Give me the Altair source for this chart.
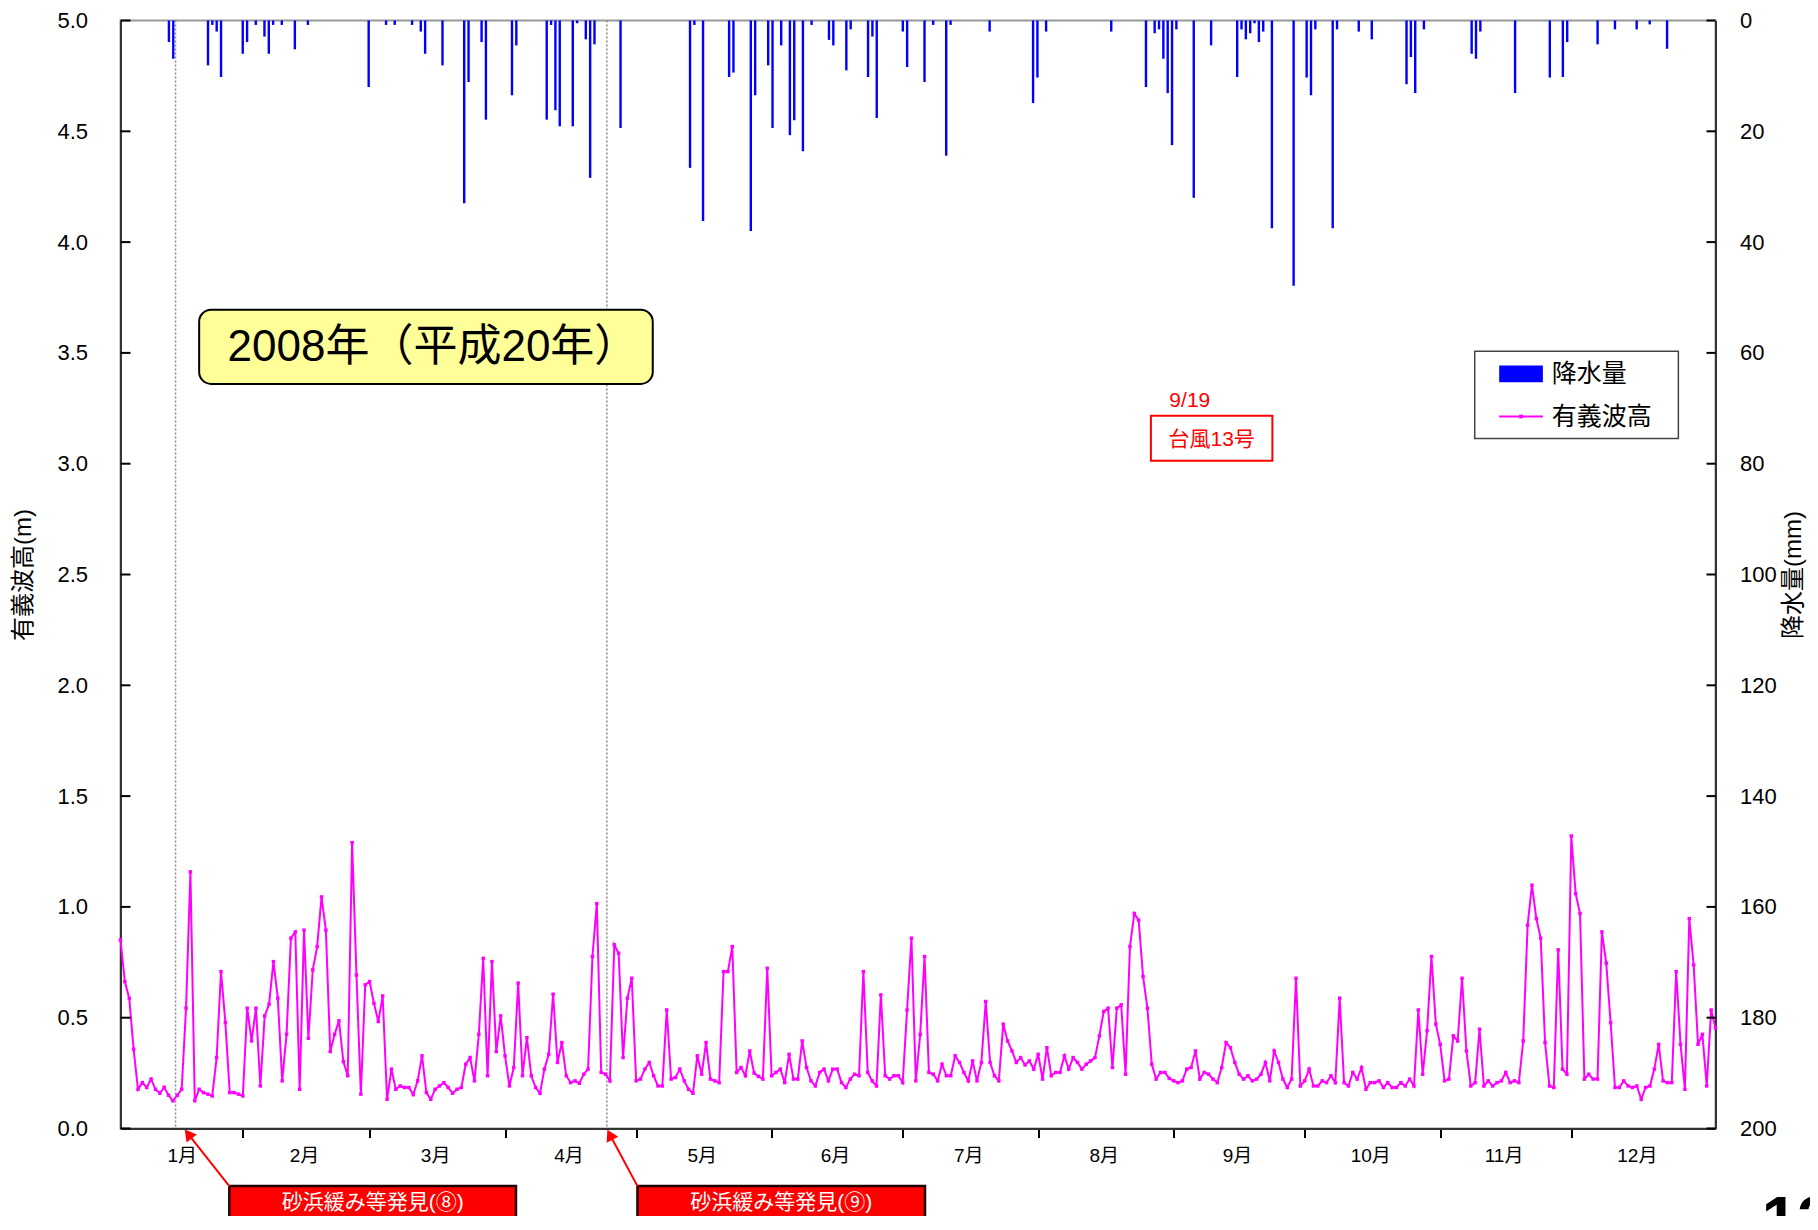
import altair as alt
import pandas as pd

FONT = "Liberation Sans, Noto Sans CJK JP"
W, H = 1595, 1108
DAY0, DAY1 = 4, 369

# 有義波高 (m), daily from day-of-year 4
wave_height = [
    0.851, 0.663, 0.588, 0.358, 0.177, 0.207, 0.185, 0.223, 0.177, 0.159,
    0.186, 0.150, 0.125, 0.150, 0.177, 0.543, 1.158, 0.125, 0.177, 0.162,
    0.155, 0.147, 0.320, 0.708, 0.478, 0.162, 0.162, 0.155, 0.147, 0.543,
    0.395, 0.543, 0.192, 0.508, 0.561, 0.753, 0.588, 0.215, 0.425, 0.859,
    0.887, 0.177, 0.895, 0.407, 0.716, 0.821, 1.045, 0.895, 0.347, 0.425,
    0.486, 0.302, 0.238, 1.290, 0.693, 0.155, 0.648, 0.663, 0.565, 0.483,
    0.598, 0.132, 0.268, 0.177, 0.192, 0.185, 0.185, 0.153, 0.215, 0.328,
    0.162, 0.132, 0.177, 0.192, 0.207, 0.185, 0.159, 0.177, 0.185, 0.290,
    0.320, 0.215, 0.425, 0.768, 0.238, 0.753, 0.347, 0.508, 0.328, 0.192,
    0.275, 0.656, 0.238, 0.410, 0.238, 0.185, 0.159, 0.268, 0.335, 0.606,
    0.298, 0.388, 0.238, 0.207, 0.215, 0.204, 0.245, 0.268, 0.776, 1.015,
    0.253, 0.245, 0.215, 0.829, 0.791, 0.320, 0.588, 0.678, 0.215, 0.223,
    0.268, 0.298, 0.238, 0.192, 0.192, 0.535, 0.223, 0.230, 0.268, 0.215,
    0.177, 0.159, 0.328, 0.245, 0.388, 0.223, 0.215, 0.207, 0.708, 0.708,
    0.821, 0.253, 0.275, 0.238, 0.350, 0.250, 0.235, 0.223, 0.723, 0.238,
    0.253, 0.268, 0.207, 0.335, 0.223, 0.223, 0.395, 0.275, 0.215, 0.192,
    0.253, 0.268, 0.215, 0.268, 0.268, 0.207, 0.185, 0.223, 0.245, 0.238,
    0.708, 0.253, 0.215, 0.192, 0.603, 0.238, 0.223, 0.238, 0.238, 0.207,
    0.535, 0.859, 0.215, 0.425, 0.776, 0.253, 0.245, 0.215, 0.290, 0.238,
    0.238, 0.328, 0.298, 0.253, 0.215, 0.305, 0.215, 0.298, 0.573, 0.298,
    0.238, 0.215, 0.471, 0.395, 0.350, 0.298, 0.320, 0.287, 0.305, 0.268,
    0.335, 0.223, 0.365, 0.238, 0.253, 0.253, 0.328, 0.268, 0.320, 0.298,
    0.268, 0.290, 0.305, 0.320, 0.418, 0.528, 0.543, 0.275, 0.543, 0.558,
    0.245, 0.821, 0.970, 0.940, 0.686, 0.543, 0.290, 0.223, 0.253, 0.253,
    0.226, 0.215, 0.207, 0.215, 0.268, 0.275, 0.350, 0.223, 0.253, 0.245,
    0.223, 0.207, 0.275, 0.388, 0.365, 0.298, 0.245, 0.223, 0.238, 0.215,
    0.223, 0.245, 0.298, 0.215, 0.350, 0.298, 0.223, 0.185, 0.223, 0.678,
    0.192, 0.215, 0.268, 0.192, 0.192, 0.215, 0.207, 0.238, 0.207, 0.588,
    0.207, 0.192, 0.253, 0.223, 0.275, 0.177, 0.207, 0.207, 0.215, 0.185,
    0.207, 0.185, 0.185, 0.207, 0.192, 0.223, 0.192, 0.535, 0.245, 0.441,
    0.776, 0.471, 0.380, 0.215, 0.223, 0.418, 0.395, 0.678, 0.350, 0.192,
    0.207, 0.448, 0.192, 0.215, 0.192, 0.207, 0.215, 0.253, 0.207, 0.215,
    0.207, 0.395, 0.917, 1.098, 0.947, 0.859, 0.388, 0.192, 0.185, 0.806,
    0.268, 0.245, 1.320, 1.060, 0.970, 0.223, 0.245, 0.223, 0.223, 0.887,
    0.746, 0.478, 0.185, 0.185, 0.215, 0.192, 0.185, 0.192, 0.132, 0.185,
    0.192, 0.268, 0.380, 0.215, 0.207, 0.207, 0.708, 0.380, 0.177, 0.947,
    0.738, 0.380, 0.425, 0.192, 0.535, 0.453,
]

# 降水量 (mm)
rain_day = [14, 15, 23, 24, 25, 26, 31, 32, 34, 36, 37, 38, 40, 43, 46,
            60, 64, 66, 70, 72, 73, 77, 82, 83, 86, 87, 93, 94,
            101, 102, 103, 104, 107, 108, 110, 111, 112, 118,
            134, 135, 137, 143, 144, 148, 149, 152, 153, 155, 157, 158, 160, 162,
            166, 167, 170, 171, 175, 176, 177, 183, 184, 188, 190, 193, 194,
            203, 213, 214, 216, 231, 239, 241, 242, 243, 244, 245, 246, 250, 254,
            260, 261, 262, 263, 264, 265, 266, 268, 273, 276, 277, 278,
            282, 283, 288, 291, 299, 300, 301, 303, 314, 315, 316,
            324, 332, 335, 336, 343, 347, 352, 355, 359]
rain_mm = [3.9, 6.9, 8.1, 0.8, 2.0, 10.2, 6.0, 3.9, 0.8, 2.9, 6.0, 0.8, 0.8, 5.2, 0.8,
           12.0, 0.8, 0.8, 0.8, 2.0, 6.0, 8.1, 33.0, 11.1, 3.9, 17.9, 13.5, 4.5,
           17.9, 0.8, 16.2, 19.1, 19.1, 0.5, 3.4, 28.4, 4.3, 19.4,
           26.6, 0.8, 36.2, 10.2, 9.4, 38.0, 13.5, 8.1, 19.4, 4.5, 20.7, 18.0, 23.6, 0.8,
           3.5, 4.5, 9.0, 1.6, 10.2, 2.9, 17.6, 2.0, 8.4, 11.1, 0.8, 24.4, 0.8,
           2.0, 14.9, 10.3, 2.0, 2.0, 12.0, 2.3, 1.6, 6.9, 13.1, 22.5, 1.6, 32.0, 4.5,
           10.2, 1.6, 3.4, 2.3, 0.5, 3.9, 2.0, 37.5, 47.9, 10.3, 13.5, 1.6,
           37.5, 1.6, 2.0, 3.4, 11.5, 6.6, 13.1, 1.6, 6.0, 6.9, 2.0,
           13.1, 10.3, 10.2, 3.9, 4.3, 1.6, 1.6, 0.7, 5.1]

month_start = [32, 61, 92, 122, 153, 183, 214, 245, 275, 306, 336]
month_mid = [18, 46, 76, 106.5, 137, 167.5, 198, 229, 259.5, 290, 320.5, 351]
month_names = ["1月", "2月", "3月", "4月", "5月", "6月", "7月", "8月", "9月", "10月", "11月", "12月"]
left_ticks = [0.0, 0.5, 1.0, 1.5, 2.0, 2.5, 3.0, 3.5, 4.0, 4.5, 5.0]
right_ticks = [0, 20, 40, 60, 80, 100, 120, 140, 160, 180, 200]

event_day = [16.6, 115.3]

title_text = ["2008年（平成20年）"]
title_box = {"x0": [22.0], "x1": [125.8], "y0": [3.695], "y1": [3.360], "tx": [75.5], "ty": [3.52]}

typhoon_date = ["9/19"]
typhoon_name = ["台風13号"]
typhoon_pos = {"dx": [248.7], "dy": [3.282], "x0": [239.8], "x1": [267.6], "y0": [3.216], "y1": [3.013],
               "nx": [253.7], "ny": [3.106]}

legend_labels = ["降水量", "有義波高"]
legend_pos = {"x0": [313.9], "x1": [360.5], "y0": [3.508], "y1": [3.114],
              "sx0": [319.5], "sx1": [329.5], "sy0": [3.443], "sy1": [3.368],
              "tx": [331.5, 331.5], "ty": [3.406, 3.212], "ly": [3.213], "lx": [324.5]}

note_text = ["砂浜緩み等発見(⑧)", "砂浜緩み等発見(⑨)"]
note_box = {"x0": [28.9, 122.3], "x1": [94.5, 188.1], "y0": [-0.26, -0.26], "y1": [-0.55, -0.55],
            "tx": [61.7, 155.2], "ty": [-0.334, -0.334]}
arrow_from = {"x": [28.9, 122.3], "y": [-0.26, -0.26]}
arrow_head = {"x": [19.5, 116.0], "y": [-0.025, -0.028]}

page_no = ["13"]
page_pos = {"x": [379.6], "y": [-0.514]}

assert len(rain_day) == len(rain_mm)

xs = alt.Scale(domain=[DAY0, DAY1], nice=False, zero=False)
ys = alt.Scale(domain=[0, 5], nice=False, zero=False)
rs = alt.Scale(domain=[0, 200], reverse=True, nice=False)

wave_df = pd.DataFrame({"day": list(range(DAY0, DAY0 + len(wave_height))), "h": wave_height})
rain_df = pd.DataFrame({"day": rain_day, "mm": rain_mm})


def X(f):
    return alt.X(f, type="quantitative", scale=xs, axis=None)


def Y(f):
    return alt.Y(f, type="quantitative", scale=ys, axis=None)


label_expr = "(indexof([" + ",".join(str(v) for v in month_mid) + "], datum.value) + 1) + '月'"

# precipitation bars (right axis)
bars = alt.Chart(rain_df).mark_bar(color="#0000FF", size=2.4).encode(
    x=X("day"),
    y=alt.Y("mm:Q", scale=rs, axis=alt.Axis(
        orient="right", values=right_ticks, ticks=False, tickSize=0, labelPadding=24,
        labelFontSize=22, labelFont=FONT, labelColor="#000000",
        domain=True, domainColor="#333333", domainWidth=2, grid=False,
        title="降水量(mm)", titleFont=FONT, titleFontSize=24, titleFontWeight="normal",
        titleColor="#000000", titleAngle=270, titleX=78, titleY=H / 2,
        titleAlign="center", titleBaseline="middle")),
    y2=alt.datum(0),
)

events = alt.Chart(pd.DataFrame({"d": event_day})).mark_rule(
    color="#888888", strokeWidth=1.5, strokeDash=[2, 2]).encode(
    x=X("d"), y=alt.value(0), y2=alt.value(H))

line = alt.Chart(wave_df).mark_line(color="#FF00FF", strokeWidth=2).encode(
    x=alt.X("day:Q", scale=xs, axis=alt.Axis(
        orient="bottom", values=month_start, labels=False, ticks=True, tickSize=9, tickWidth=2,
        tickColor="#000000", domain=True, domainColor="#333333", domainWidth=2, grid=False, title=None)),
    y=alt.Y("h:Q", scale=ys, axis=alt.Axis(
        orient="left", values=left_ticks, format=".1f", ticks=False, tickSize=0, labelPadding=33,
        labelFontSize=22, labelFont=FONT, labelColor="#000000",
        domain=True, domainColor="#333333", domainWidth=2, grid=False,
        title="有義波高(m)", titleFont=FONT, titleFontSize=24, titleFontWeight="normal",
        titleColor="#000000", titleAngle=270, titleX=-97, titleY=H / 2,
        titleAlign="center", titleBaseline="middle")),
)

pts = alt.Chart(wave_df).mark_square(size=12, color="#FF00FF", opacity=1).encode(
    x=alt.X("day:Q", scale=xs, axis=alt.Axis(
        orient="bottom", values=month_mid, labelExpr=label_expr, ticks=False, tickSize=0,
        domain=False, grid=False, labelPadding=18, labelFontSize=19, labelFont=FONT,
        labelColor="#000000", labelFlush=False, labelOverlap=False, title=None)),
    y=Y("h"),
)

tick_df = pd.DataFrame({"v": left_ticks})
lticks = alt.Chart(tick_df).mark_rule(color="#000000", strokeWidth=2).encode(
    y=Y("v"), x=alt.value(0), x2=alt.value(10))
rticks = alt.Chart(tick_df).mark_rule(color="#000000", strokeWidth=2).encode(
    y=Y("v"), x=alt.value(W - 9), x2=alt.value(W))

# title box
tb_df = pd.DataFrame(dict(title_box, t=title_text))
tbox = alt.Chart(tb_df).mark_rect(fill="#FFFF99", stroke="#000000", strokeWidth=2, cornerRadius=12).encode(
    x=X("x0"), x2="x1:Q", y=Y("y0"), y2="y1:Q")
ttext = alt.Chart(tb_df).mark_text(font=FONT, fontSize=44, color="#000000", align="center",
                                   baseline="middle").encode(x=X("tx"), y=Y("ty"), text="t:N")

# typhoon annotation
ty_df = pd.DataFrame(dict(typhoon_pos, d=typhoon_date, n=typhoon_name))
tydate = alt.Chart(ty_df).mark_text(font=FONT, fontSize=21, color="#FF0000", align="center",
                                    baseline="middle").encode(x=X("dx"), y=Y("dy"), text="d:N")
tybox = alt.Chart(ty_df).mark_rect(fill="#FFFFFF", stroke="#FF0000", strokeWidth=2).encode(
    x=X("x0"), x2="x1:Q", y=Y("y0"), y2="y1:Q")
tyname = alt.Chart(ty_df).mark_text(font=FONT, fontSize=21, color="#FF0000", align="center",
                                    baseline="middle").encode(x=X("nx"), y=Y("ny"), text="n:N")

# legend
lg1 = pd.DataFrame({k: legend_pos[k] for k in ["x0", "x1", "y0", "y1", "sx0", "sx1", "sy0", "sy1", "ly", "lx"]})
lg2 = pd.DataFrame({"tx": legend_pos["tx"], "ty": legend_pos["ty"], "t": legend_labels})
lgbox = alt.Chart(lg1).mark_rect(fill="#FFFFFF", stroke="#444444", strokeWidth=1.5).encode(
    x=X("x0"), x2="x1:Q", y=Y("y0"), y2="y1:Q")
lgsw = alt.Chart(lg1).mark_rect(fill="#0000FF").encode(
    x=X("sx0"), x2="sx1:Q", y=Y("sy0"), y2="sy1:Q")
lgline = alt.Chart(lg1).mark_rule(color="#FF00FF", strokeWidth=2).encode(
    x=X("sx0"), x2="sx1:Q", y=Y("ly"))
lgpt = alt.Chart(lg1).mark_square(size=14, color="#FF00FF", opacity=1).encode(x=X("lx"), y=Y("ly"))
lgtext = alt.Chart(lg2).mark_text(font=FONT, fontSize=25, color="#000000", align="left",
                                  baseline="middle").encode(x=X("tx"), y=Y("ty"), text="t:N")

# red notes below the axis
nb_df = pd.DataFrame(dict(note_box, t=note_text))
nbox = alt.Chart(nb_df).mark_rect(fill="#FF0000", stroke="#220000", strokeWidth=2.5).encode(
    x=X("x0"), x2="x1:Q", y=Y("y0"), y2="y1:Q")
ntext = alt.Chart(nb_df).mark_text(font=FONT, fontSize=21, color="#FFFFFF", align="center",
                                   baseline="middle").encode(x=X("tx"), y=Y("ty"), text="t:N")
ar_df = pd.DataFrame({"x": arrow_from["x"], "y": arrow_from["y"],
                      "hx": arrow_head["x"], "hy": arrow_head["y"]})
arrows = alt.Chart(ar_df).mark_rule(color="#FF0000", strokeWidth=2).encode(
    x=X("x"), x2="hx:Q", y=Y("y"), y2="hy:Q")
head1 = alt.Chart(ar_df.iloc[[0]]).mark_point(shape="triangle-up", filled=True, size=170,
                                               color="#FF0000", opacity=1, angle=322).encode(
    x=X("hx"), y=Y("hy"))
head2 = alt.Chart(ar_df.iloc[[1]]).mark_point(shape="triangle-up", filled=True, size=170,
                                               color="#FF0000", opacity=1, angle=333).encode(
    x=X("hx"), y=Y("hy"))

pg_df = pd.DataFrame(dict(page_pos, t=page_no))
pgtext = alt.Chart(pg_df).mark_text(font=FONT, fontSize=64, fontWeight="bold", color="#000000",
                                    align="left", baseline="alphabetic").encode(
    x=X("x"), y=Y("y"), text="t:N")

chart = alt.layer(
    bars, events, line, pts, lticks, rticks,
    tbox, ttext, tydate, tybox, tyname,
    lgbox, lgsw, lgline, lgpt, lgtext,
    nbox, ntext, arrows, head1, head2, pgtext,
).resolve_scale(x="independent", y="independent").properties(
    width=W, height=H,
    padding={"left": 112.5, "top": 12.5, "right": 94.5, "bottom": 87.5},
    autosize=alt.AutoSizeParams(type="none"),
).configure_view(stroke="#999999", strokeWidth=2)

chart.save("out.html", embed_options={"renderer": "svg", "actions": False})
